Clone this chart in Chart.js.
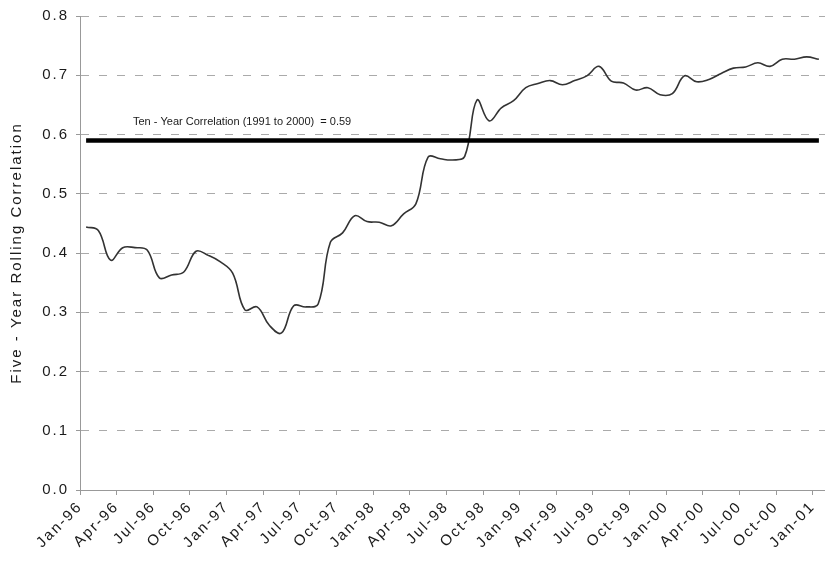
<!DOCTYPE html>
<html>
<head>
<meta charset="utf-8">
<script src="https://cdn.jsdelivr.net/npm/chart.js@4"></script>
<style>
  html, body { margin: 0; padding: 0; background: #fff; }
  #wrap { width: 825px; height: 563px; }
</style>
</head>
<body>
<div id="wrap"><canvas id="corrChart" width="825" height="563"></canvas></div>
<script>
// Months Jan-96 .. Jan-01
const monthNames = ['Jan', 'Feb', 'Mar', 'Apr', 'May', 'Jun', 'Jul', 'Aug', 'Sep', 'Oct', 'Nov', 'Dec'];
const yearNames = ['96', '97', '98', '99', '00', '01'];
const categories = [];
yearNames.forEach(y => monthNames.forEach(m => categories.push(m + '-' + y)));
categories.length = 61;

// Five-year rolling correlation
const rolling = [
  0.444, 0.438, 0.388, 0.409, 0.409, 0.405, 0.358, 0.363, 0.368, 0.403, 0.396, 0.385,
  0.366, 0.304, 0.309, 0.278, 0.265, 0.311, 0.309, 0.314, 0.418, 0.434, 0.463, 0.453,
  0.452, 0.446, 0.466, 0.483, 0.562, 0.559, 0.557, 0.563, 0.658, 0.623, 0.645, 0.657,
  0.679, 0.686, 0.691, 0.684, 0.691, 0.699, 0.715, 0.690, 0.687, 0.675, 0.679, 0.667,
  0.669, 0.699, 0.689, 0.693, 0.703, 0.712, 0.714, 0.721, 0.715, 0.727, 0.727, 0.731,
  0.727
];

const tenYearValue = 0.59;
const tenYearLine = categories.map(() => tenYearValue);
const tenYearText = 'Ten - Year Correlation (1991 to 2000)  = 0.59';

const yTickValues = [0, 0.1, 0.2, 0.3, 0.4, 0.5, 0.6, 0.7, 0.8];

const fontFamily = '"Liberation Sans", Arial, Helvetica, sans-serif';
const textColor = '#1a1a1a';

// axis text in the picture is drawn wide, so space the letters out a bit
const wideText = {
  id: 'wideText',
  beforeUpdate(chart) { chart.ctx.letterSpacing = '2px'; },
  beforeDraw(chart) { chart.ctx.letterSpacing = '2px'; }
};

// label above the ten-year line
const tenYearLabel = {
  id: 'tenYearLabel',
  afterDatasetsDraw(chart) {
    const ctx = chart.ctx;
    const y = chart.scales.y.getPixelForValue(tenYearValue) - 15;
    ctx.save();
    ctx.letterSpacing = '0px';
    ctx.font = '11px ' + fontFamily;
    ctx.fillStyle = textColor;
    ctx.textAlign = 'left';
    ctx.textBaseline = 'alphabetic';
    ctx.fillText(tenYearText, chart.chartArea.left + 53, y);
    ctx.restore();
  }
};

new Chart(document.getElementById('corrChart'), {
  type: 'line',
  data: {
    labels: categories,
    datasets: [
      {
        data: tenYearLine,
        borderColor: '#000',
        borderWidth: 4.5,
        pointRadius: 0,
        tension: 0,
        order: 1
      },
      {
        data: rolling,
        borderColor: '#333',
        borderWidth: 1.6,
        pointRadius: 0,
        tension: 0.4,
        order: 2
      }
    ]
  },
  options: {
    responsive: false,
    animation: false,
    layout: { padding: { top: 15, right: 0, left: 0, bottom: 0 } },
    plugins: {
      legend: { display: false },
      tooltip: { enabled: false }
    },
    scales: {
      x: {
        offset: true,
        grid: {
          offset: true,
          drawOnChartArea: false,
          tickLength: 5,
          tickWidth: 1,
          tickColor: c => c.index % 3 === 0 ? '#999' : 'rgba(0,0,0,0)'
        },
        border: { display: true, color: '#999', width: 1 },
        ticks: {
          autoSkip: false,
          minRotation: 45,
          maxRotation: 45,
          labelOffset: -6,
          padding: 3,
          color: textColor,
          font: { family: fontFamily, size: 15 },
          callback: (v, i) => i % 3 === 0 ? categories[i] : ''
        },
        afterFit: s => { s.height = 73; s.paddingLeft = 0; s.paddingRight = 0; }
      },
      y: {
        min: 0,
        max: 0.8,
        afterBuildTicks: s => { s.ticks = yTickValues.map(v => ({ value: v })); },
        grid: {
          color: '#aaa',
          lineWidth: 1,
          tickLength: 4,
          tickColor: '#999'
        },
        border: { display: true, color: '#999', width: 1, dash: [8, 10] },
        ticks: {
          padding: 7,
          color: textColor,
          font: { family: fontFamily, size: 15 },
          callback: v => v.toFixed(1)
        },
        title: {
          display: true,
          text: 'Five - Year Rolling Correlation',
          color: textColor,
          font: { family: fontFamily, size: 15 },
          padding: { top: 8, bottom: 0 }
        },
        afterFit: s => { s.width = 80; }
      }
    }
  },
  plugins: [wideText, tenYearLabel]
});
</script>
</body>
</html>
